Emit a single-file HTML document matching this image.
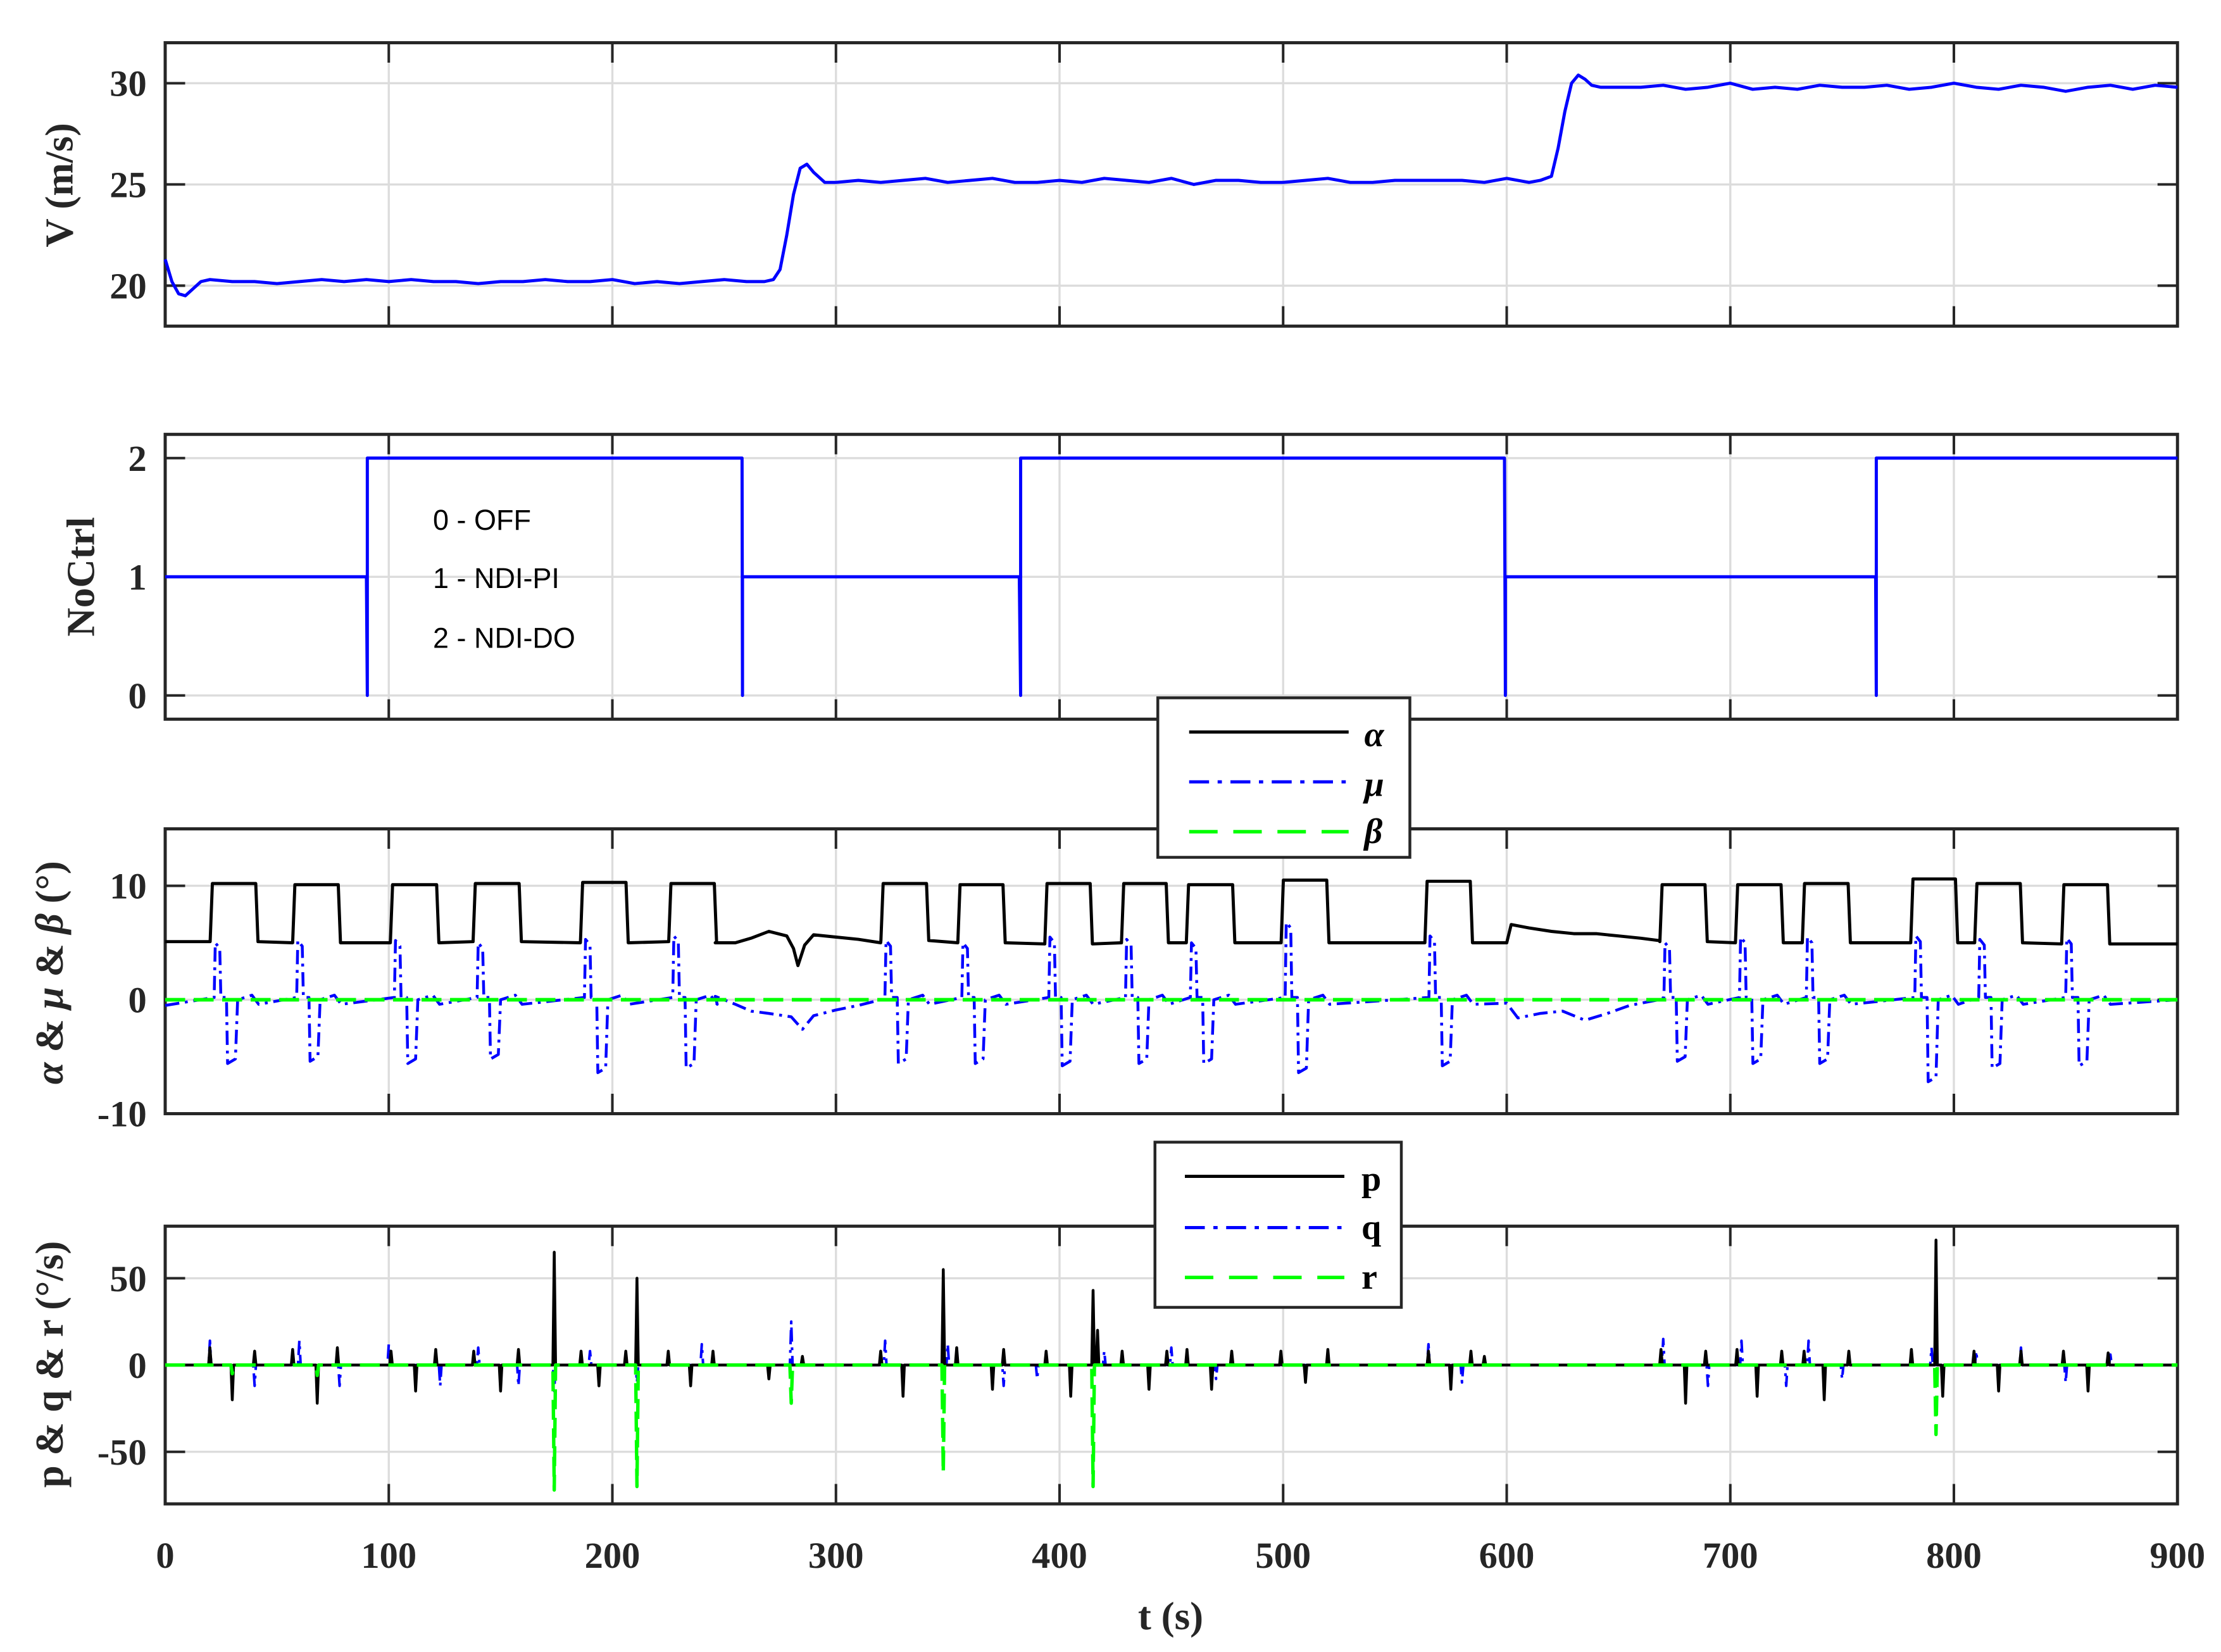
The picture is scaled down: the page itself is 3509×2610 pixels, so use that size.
<!DOCTYPE html>
<html><head><meta charset="utf-8"><style>
html,body{margin:0;padding:0;background:#fff;overflow:hidden}
svg{display:block}
</style></head><body>
<svg id="fig" xmlns="http://www.w3.org/2000/svg" width="3509" height="2610" viewBox="0 0 1559.56 1160" style="position:absolute;left:0;top:0"></svg>
<script>
// ---------- data ----------
const vTime = [0,3,6,9,12,16,20,30,40,50,60,70,80,90,100,110,120,130,140,150,160,170,180,190,200,210,220,230,240,250,260,268,272,275,278,281,284,287,290,295,300,310,320,330,340,350,360,370,380,390,400,410,420,430,440,450,460,470,480,490,500,510,520,530,540,550,560,570,580,590,600,610,615,620,623,626,629,632,635,638,642,646,650,660,670,680,690,700,710,720,730,740,750,760,770,780,790,800,810,820,830,840,850,860,870,880,890,900];
const vVal  = [21.3,20.2,19.6,19.5,19.8,20.2,20.3,20.2,20.2,20.1,20.2,20.3,20.2,20.3,20.2,20.3,20.2,20.2,20.1,20.2,20.2,20.3,20.2,20.2,20.3,20.1,20.2,20.1,20.2,20.3,20.2,20.2,20.3,20.8,22.5,24.5,25.8,26.0,25.6,25.1,25.1,25.2,25.1,25.2,25.3,25.1,25.2,25.3,25.1,25.1,25.2,25.1,25.3,25.2,25.1,25.3,25.0,25.2,25.2,25.1,25.1,25.2,25.3,25.1,25.1,25.2,25.2,25.2,25.2,25.1,25.3,25.1,25.2,25.4,26.8,28.6,30.0,30.4,30.2,29.9,29.8,29.8,29.8,29.8,29.9,29.7,29.8,30.0,29.7,29.8,29.7,29.9,29.8,29.8,29.9,29.7,29.8,30.0,29.8,29.7,29.9,29.8,29.6,29.8,29.9,29.7,29.9,29.8];
const ctrlTime = [0,90,90.4,90.4,258,258.2,258.2,382,382.6,382.6,599,599.4,599.4,765,765.3,765.3,900];
const ctrlVal  = [1,1,0,2,2,0,1,1,0,2,2,0,1,1,0,2,2];
const pulseStart = [20.4,57.3,101,138,186,225.5,320.4,354.8,393.7,428,457,499.4,563.7,668.8,702.6,732.5,781,809.6,848.5];
const pulseEnd   = [40.8,77.7,121.7,158.6,206.4,245.9,340.8,375,414,448,477.7,519.8,584,689,723,753,801,830,869];
const alphaHigh = [10.2,10.1,10.1,10.2,10.3,10.2,10.2,10.1,10.2,10.2,10.1,10.5,10.4,10.1,10.1,10.2,10.6,10.2,10.1];
const alphaLow  = [5.1,5.0,5.0,5.1,5.0,5.1,5.2,5.0,4.9,5.0,5.0,5.0,5.0,5.1,5.0,5.0,5.0,5.0,4.9];
const muUp   = [5.0,5.2,5.2,5.0,5.3,5.6,5.2,5.0,5.5,5.3,5.0,6.8,5.6,5.0,5.5,5.5,5.6,5.3,5.4];
const muDown = [-5.6,-5.4,-5.6,-5.2,-6.4,-6.0,-5.6,-5.6,-5.8,-5.6,-5.6,-6.4,-5.8,-5.4,-5.6,-5.6,-7.2,-6.0,-5.8];
const slowAlphaT = [246,255,262,270,278,281,283,286,290,300,310,320,  584,600,602,610,620,630,640,650,660,668];
const slowAlphaV = [5.0,5.0,5.4,6.0,5.6,4.5,3.0,4.8,5.7,5.5,5.3,5.0,  5.0,5.0,6.6,6.3,6.0,5.8,5.8,5.6,5.4,5.2];
const slowMuT = [246,255,262,270,280,285,290,300,310,320, 584,600,605,615,625,635,645,655,668];
const slowMuV = [0.3,-0.4,-1.0,-1.2,-1.5,-2.6,-1.4,-0.9,-0.5,0.0, 0.0,-0.3,-1.6,-1.2,-1.0,-1.8,-1.2,-0.5,0.0];
const pSpikeT = [20,30,40,57,68,77,101,112,121,138,150,158,174,186,194,206,211,225,235,245,270,285,320,330,348,354,370,375,394,405,415,417,428,440,448,457,468,477,499,510,520,565,575,584,590,669,680,689,703,712,723,733,742,753,781,792,795,809,820,830,849,860,869];
const pSpikeV = [10,-20,8,9,-22,10,8,-15,9,8,-15,9,65,8,-12,8,50,8,-12,8,-8,5,8,-18,55,10,-14,9,8,-18,43,20,8,-14,8,9,-14,8,8,-10,9,8,-14,8,5,9,-22,8,9,-18,8,8,-20,8,9,72,-18,8,-15,8,8,-15,7];
const qSpikeT = [20,40,60,78,100,123,140,158,174,190,211,240,280,322,330,350,375,390,420,450,470,565,580,670,690,705,725,735,750,790,810,830,850,870];
const qSpikeV = [14,-12,14,-12,12,-12,10,-12,-15,8,-10,12,25,14,-8,12,-12,-8,8,10,-8,12,-10,15,-12,14,-12,14,-8,10,8,10,-10,6];
const rSpikeT = [30,68,174,211,280,348,415,792];
const rSpikeV = [-5,-6,-72,-70,-22,-62,-70,-40];
const xTicks = [0,100,200,300,400,500,600,700,800,900];

// ---------- layout ----------
const NS='http://www.w3.org/2000/svg';
const svg=document.getElementById('fig');
const X0=116, X1=1529;
const panels=[
 {name:'speed',top:30,bot:229,ymin:18,ymax:32,ticks:[20,25,30]},
 {name:'noctrl',top:305,bot:505,ymin:-0.2,ymax:2.2,ticks:[0,1,2]},
 {name:'angles',top:582,bot:782,ymin:-10,ymax:15,ticks:[-10,0,10]},
 {name:'rates',top:861,bot:1056,ymin:-80,ymax:80,ticks:[-50,0,50]}
];
function xs(t){return X0+(t/900)*(X1-X0);}
function ys(p,v){return p.bot-(v-p.ymin)/(p.ymax-p.ymin)*(p.bot-p.top);}
function el(tag,attrs,parent){const e=document.createElementNS(NS,tag);for(const k in attrs)e.setAttribute(k,attrs[k]);(parent||svg).appendChild(e);return e;}
function poly(p,T,V,attrs,name){
  const pts=T.map((t,i)=>xs(t).toFixed(2)+','+ys(p,V[i]).toFixed(2)).join(' ');
  const e=el('polyline',Object.assign({points:pts,fill:'none','stroke-linejoin':'round'},attrs));
  
  
  return e;
}
const TF='font-family:"Liberation Serif",serif;font-weight:bold;fill:#262626';
panels.forEach(p=>{
  const g=el('g',{});
  
  
  xTicks.forEach(t=>{ if(t>0&&t<900) el('line',{x1:xs(t),x2:xs(t),y1:p.top,y2:p.bot,stroke:'#dcdcdc','stroke-width':1.5},g); });
  p.ticks.forEach(v=>el('line',{x1:X0,x2:X1,y1:ys(p,v),y2:ys(p,v),stroke:'#dcdcdc','stroke-width':1.5},g));
  xTicks.forEach(t=>{ if(t>0&&t<900){
    el('line',{x1:xs(t),x2:xs(t),y1:p.top,y2:p.top+14,stroke:'#262626','stroke-width':1.8},g);
    el('line',{x1:xs(t),x2:xs(t),y1:p.bot,y2:p.bot-14,stroke:'#262626','stroke-width':1.8},g);}});
  p.ticks.forEach(v=>{
    el('line',{x1:X0,x2:X0+14,y1:ys(p,v),y2:ys(p,v),stroke:'#262626','stroke-width':1.8},g);
    el('line',{x1:X1,x2:X1-14,y1:ys(p,v),y2:ys(p,v),stroke:'#262626','stroke-width':1.8},g);
    const tx=el('text',{x:X0-13,y:ys(p,v)+9,'text-anchor':'end','font-size':26,style:TF},g);
    tx.textContent=String(v);
    
    
  });
  el('rect',{x:X0,y:p.top,width:X1-X0,height:p.bot-p.top,fill:'none',stroke:'#262626','stroke-width':2.2},g);
});
xTicks.forEach(t=>{
  const tx=el('text',{x:xs(t),y:1101,'text-anchor':'middle','font-size':26,style:TF});
  tx.textContent=String(t);
  
  
});
// ---------- series ----------
const P=panels;
poly(P[0],vTime,vVal,{stroke:'#0000ff','stroke-width':2.2},'speed-line');
poly(P[1],ctrlTime,ctrlVal,{stroke:'#0000ff','stroke-width':2.2},'noctrl-line');
(function(){
  let T=[0],V=[alphaLow[0]];
  pulseStart.forEach((s,i)=>{
    const e=pulseEnd[i];
    const lo=i?pulseEnd[i-1]:0;
    slowAlphaT.forEach((t,j)=>{ if(t>lo&&t<s){T.push(t);V.push(slowAlphaV[j]);} });
    T.push(s-0.3,s+0.7,e-0.3,e+0.7);V.push(alphaLow[i],alphaHigh[i],alphaHigh[i],alphaLow[i]);
  });
  T.push(900);V.push(alphaLow[alphaLow.length-1]);
  poly(P[2],T,V,{stroke:'#000','stroke-width':2.2},'alpha-line');
  let MT=[0],MV=[-0.5];
  pulseStart.forEach((s,i)=>{
    const lo=i?pulseEnd[i-1]:0;
    slowMuT.forEach((t,j)=>{ if(t>lo&&t<s){MT.push(t);MV.push(slowMuV[j]);} });
    MT.push(s+1.5,s+2,s+4,s+4.5,s+7,s+7.5,s+11,s+12,pulseEnd[i]-2,pulseEnd[i]+1);
    MV.push(0.2,muUp[i],muUp[i]-0.5,0.2,0.2,muDown[i],muDown[i]+0.4,0,0.4,-0.4);
  });
  MT.push(900);MV.push(0);
  poly(P[2],MT,MV,{stroke:'#0000ff','stroke-width':2,'stroke-dasharray':'10 4 2 4'},'mu-line');
  poly(P[2],[0,900],[0,0],{stroke:'#00ff00','stroke-width':2.6,'stroke-dasharray':'14 6'},'beta-line');
})();
function spikes(T,V){let a=[0],b=[0];T.forEach((t,i)=>{a.push(t-0.6,t,t+0.6);b.push(0,V[i],0);});a.push(900);b.push(0);return [a,b];}
let sp=spikes(qSpikeT,qSpikeV);poly(P[3],sp[0],sp[1],{stroke:'#0000ff','stroke-width':1.8,'stroke-dasharray':'10 4 2 4'},'q-line');
sp=spikes(pSpikeT,pSpikeV);poly(P[3],sp[0],sp[1],{stroke:'#000','stroke-width':2},'p-line');
sp=spikes(rSpikeT,rSpikeV);poly(P[3],sp[0],sp[1],{stroke:'#00ff00','stroke-width':2.4,'stroke-dasharray':'14 6'},'r-line');
</script>
<svg style="position:absolute;left:0;top:0" width="3509" height="2610" viewBox="0 0 1559.56 1160" xmlns="http://www.w3.org/2000/svg">
 <g style="font-family:'Liberation Serif',serif;font-weight:bold" fill="#262626">
  <text transform="translate(51,130) rotate(-90)" text-anchor="middle" font-size="28">V (m/s)</text>
  <text transform="translate(66,405) rotate(-90)" text-anchor="middle" font-size="28">NoCtrl</text>
  <text transform="translate(44,683) rotate(-90)" text-anchor="middle" font-size="28"><tspan font-style="italic">α</tspan> &amp; <tspan font-style="italic">μ</tspan> &amp; <tspan font-style="italic">β</tspan> (°)</text>
  <text transform="translate(44,958) rotate(-90)" text-anchor="middle" font-size="28">p &amp; q &amp; r (°/s)</text>
  <text x="822" y="1144" text-anchor="middle" font-size="28">t (s)</text>
 </g>
 <g style="font-family:'Liberation Sans',sans-serif;font-weight:normal" font-size="20" fill="#000">
  <text x="304" y="372">0 - OFF</text>
  <text x="304" y="413">1 - NDI-PI</text>
  <text x="304" y="455">2 - NDI-DO</text>
 </g>
 <g>
  <rect x="813" y="490" width="177" height="112" fill="#fff" stroke="#262626" stroke-width="2"/>
  <line x1="835" x2="947" y1="514" y2="514" stroke="#000" stroke-width="2.2"/>
  <line x1="835" x2="947" y1="549" y2="549" stroke="#00f" stroke-width="2.2" stroke-dasharray="14 6 3 6"/>
  <line x1="835" x2="947" y1="584" y2="584" stroke="#0f0" stroke-width="2.4" stroke-dasharray="20 11"/>
  <g style="font-family:'Liberation Serif',serif;font-weight:bold;font-style:italic" font-size="25" fill="#000">
   <text x="958" y="524">α</text><text x="958" y="559">μ</text><text x="958" y="592">β</text>
  </g>
 </g>
 <g>
  <rect x="811" y="802" width="173" height="116" fill="#fff" stroke="#262626" stroke-width="2"/>
  <line x1="832" x2="944" y1="826" y2="826" stroke="#000" stroke-width="2.2"/>
  <line x1="832" x2="944" y1="862" y2="862" stroke="#00f" stroke-width="2.2" stroke-dasharray="14 6 3 6"/>
  <line x1="832" x2="944" y1="897" y2="897" stroke="#0f0" stroke-width="2.4" stroke-dasharray="20 11"/>
  <g style="font-family:'Liberation Serif',serif;font-weight:bold" font-size="25" fill="#000">
   <text x="956" y="836">p</text><text x="956" y="870">q</text><text x="956" y="905">r</text>
  </g>
 </g>
</svg>
</body></html>
